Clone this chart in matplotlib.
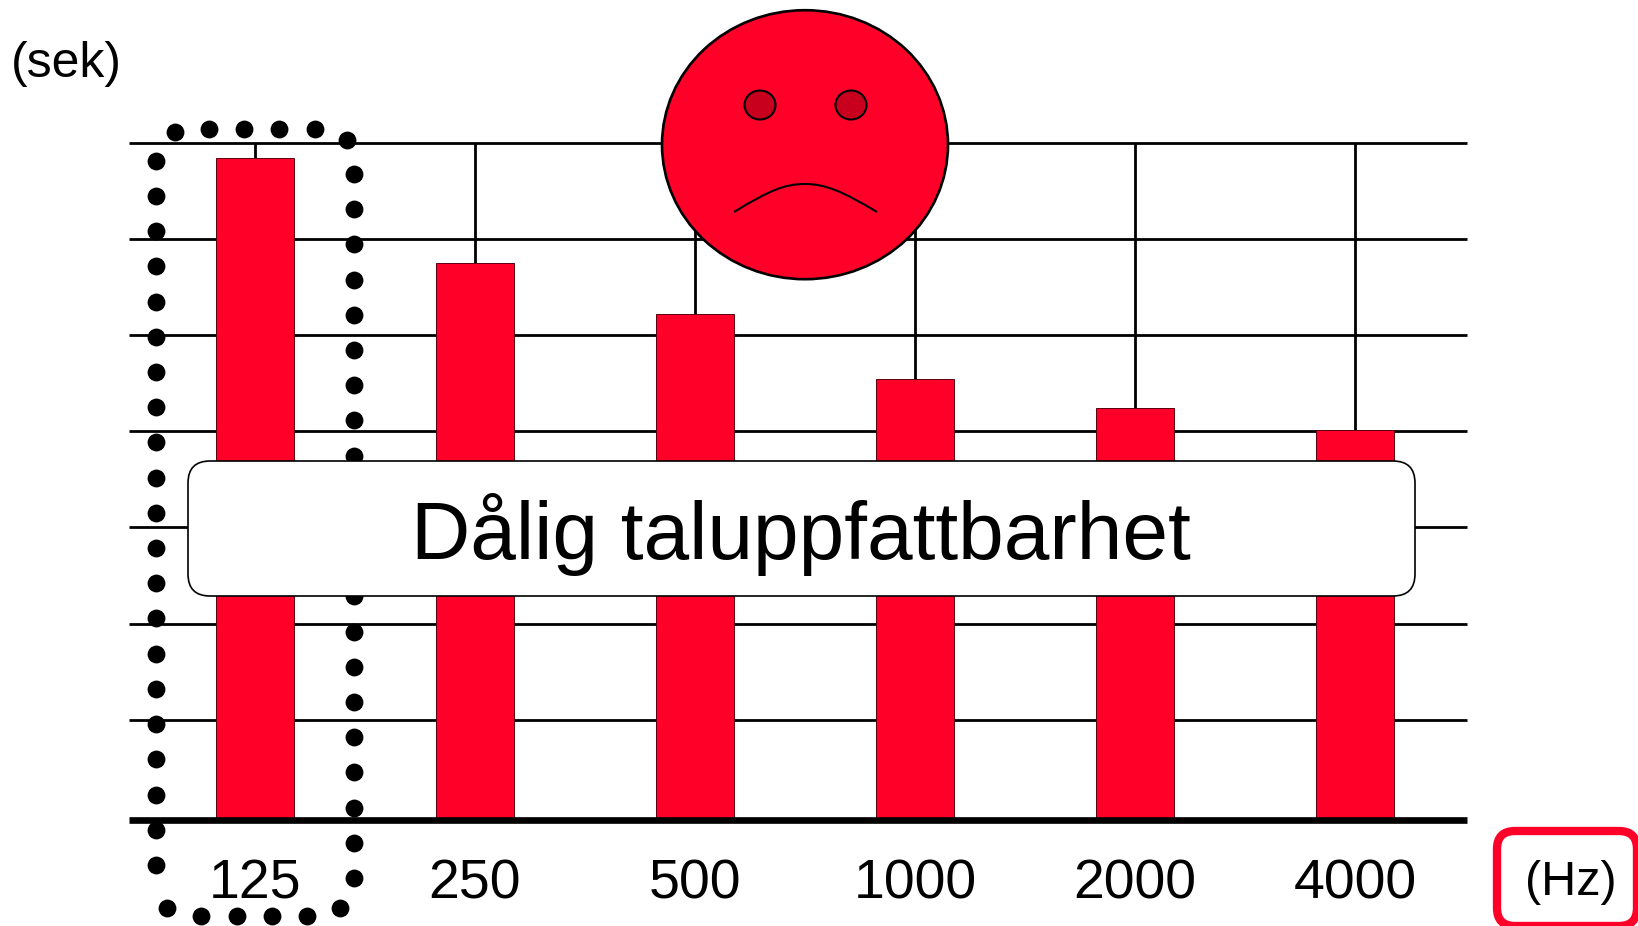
import numpy as np
import matplotlib
matplotlib.use("Agg")
import matplotlib.pyplot as plt
from matplotlib.patches import Ellipse, FancyBboxPatch, PathPatch
from matplotlib.path import Path

plt.rcParams['font.family'] = ['Liberation Sans', 'DejaVu Sans']

# data
freqs = ['125', '250', '500', '1000', '2000', '4000']
seconds = [6.84, 5.76, 5.23, 4.56, 4.26, 4.03]
grid_values = [1.035, 2.03, 3.03, 4.02, 5.01, 6.01, 7.0]

RED = '#FF0029'
W, H = 1638, 926

fig = plt.figure(figsize=(W / 100, H / 100), dpi=100, facecolor='white')

# main axes, placed in pixels so that x=0 sits at 255 px and 1 unit is 220 px
left, right, top, bottom = 129, 1467, 143, 820
ax = fig.add_axes([left / W, 1 - bottom / H, (right - left) / W, (bottom - top) / H])
ax.set_xlim((left - 255) / 220, (right - 255) / 220)
ax.set_ylim(0, 7.0)
for s in ax.spines.values():
    s.set_visible(False)

x = np.arange(len(freqs))
for g in grid_values:
    ax.axhline(g, color='black', lw=2.0, zorder=1, clip_on=False, solid_capstyle='butt')
ax.vlines(x, seconds, 7.0, color='black', lw=2.0, zorder=1)
ax.bar(x, seconds, width=0.355, color=RED, edgecolor='#5a0010', linewidth=0.7, zorder=2)
ax.axhline(0, color='black', lw=4.8, zorder=3, clip_on=False, solid_capstyle='butt')

ax.set_yticks([])
ax.set_xticks(x, freqs, fontsize=40)
ax.tick_params(axis='x', length=0, pad=28)

# overlay in pixel coordinates for the drawn shapes
ov = fig.add_axes([0, 0, 1, 1], zorder=5)
ov.set_xlim(0, W)
ov.set_ylim(H, 0)
ov.axis('off')

# dotted frame round the 125 Hz bar
left_y = np.linspace(160.7, 865, 21)
right_y = np.linspace(174, 878, 21)
top_x = [174.5, 209, 244, 279, 315, 346.5]
top_y = [132, 128.5, 128.5, 128.5, 128.5, 140]
bottom_x = [167, 201, 237, 272, 307, 340]
bottom_y = [908, 916, 916, 916, 916, 908]
ov.scatter(np.full(21, 155.5), left_y, s=165, color='black', linewidths=0, zorder=1)
ov.scatter(np.full(21, 354), right_y, s=165, color='black', linewidths=0, zorder=1)
ov.scatter(top_x, top_y, s=165, color='black', linewidths=0, zorder=1)
ov.scatter(bottom_x, bottom_y, s=165, color='black', linewidths=0, zorder=1)

# sad face
ov.add_patch(Ellipse((805, 144.7), 286, 269, facecolor=RED, edgecolor='black', lw=1.9, zorder=2))
for ex in [760, 851]:
    ov.add_patch(Ellipse((ex, 105), 31, 29, facecolor='#C8001E', edgecolor='black', lw=1.5, zorder=3))
mouth = Path([(734, 212), (770, 190), (785, 184), (805, 184), (825, 184), (842, 191), (877, 212)],
             [Path.MOVETO, Path.CURVE4, Path.CURVE4, Path.CURVE4, Path.CURVE4, Path.CURVE4, Path.CURVE4])
ov.add_patch(PathPatch(mouth, facecolor='none', edgecolor='black', lw=1.5, zorder=3))

# white label box
ov.add_patch(FancyBboxPatch((188, 461), 1227, 135, boxstyle='round,pad=0,rounding_size=22',
                            facecolor='white', edgecolor='black', lw=1.2, zorder=4))
ov.text(801, 534, 'Dålig taluppfattbarhet', fontsize=59, ha='center', va='center', zorder=5)

# unit labels
ov.text(66, 77, '(sek)', fontsize=36, ha='center', va='baseline')
ov.add_patch(FancyBboxPatch((1497, 831), 140, 95, boxstyle='round,pad=0,rounding_size=18',
                            facecolor='none', edgecolor=RED, lw=6, clip_on=True))
ov.text(1571, 895, '(Hz)', fontsize=35, ha='center', va='baseline')

fig.savefig('out.png', dpi=100)
